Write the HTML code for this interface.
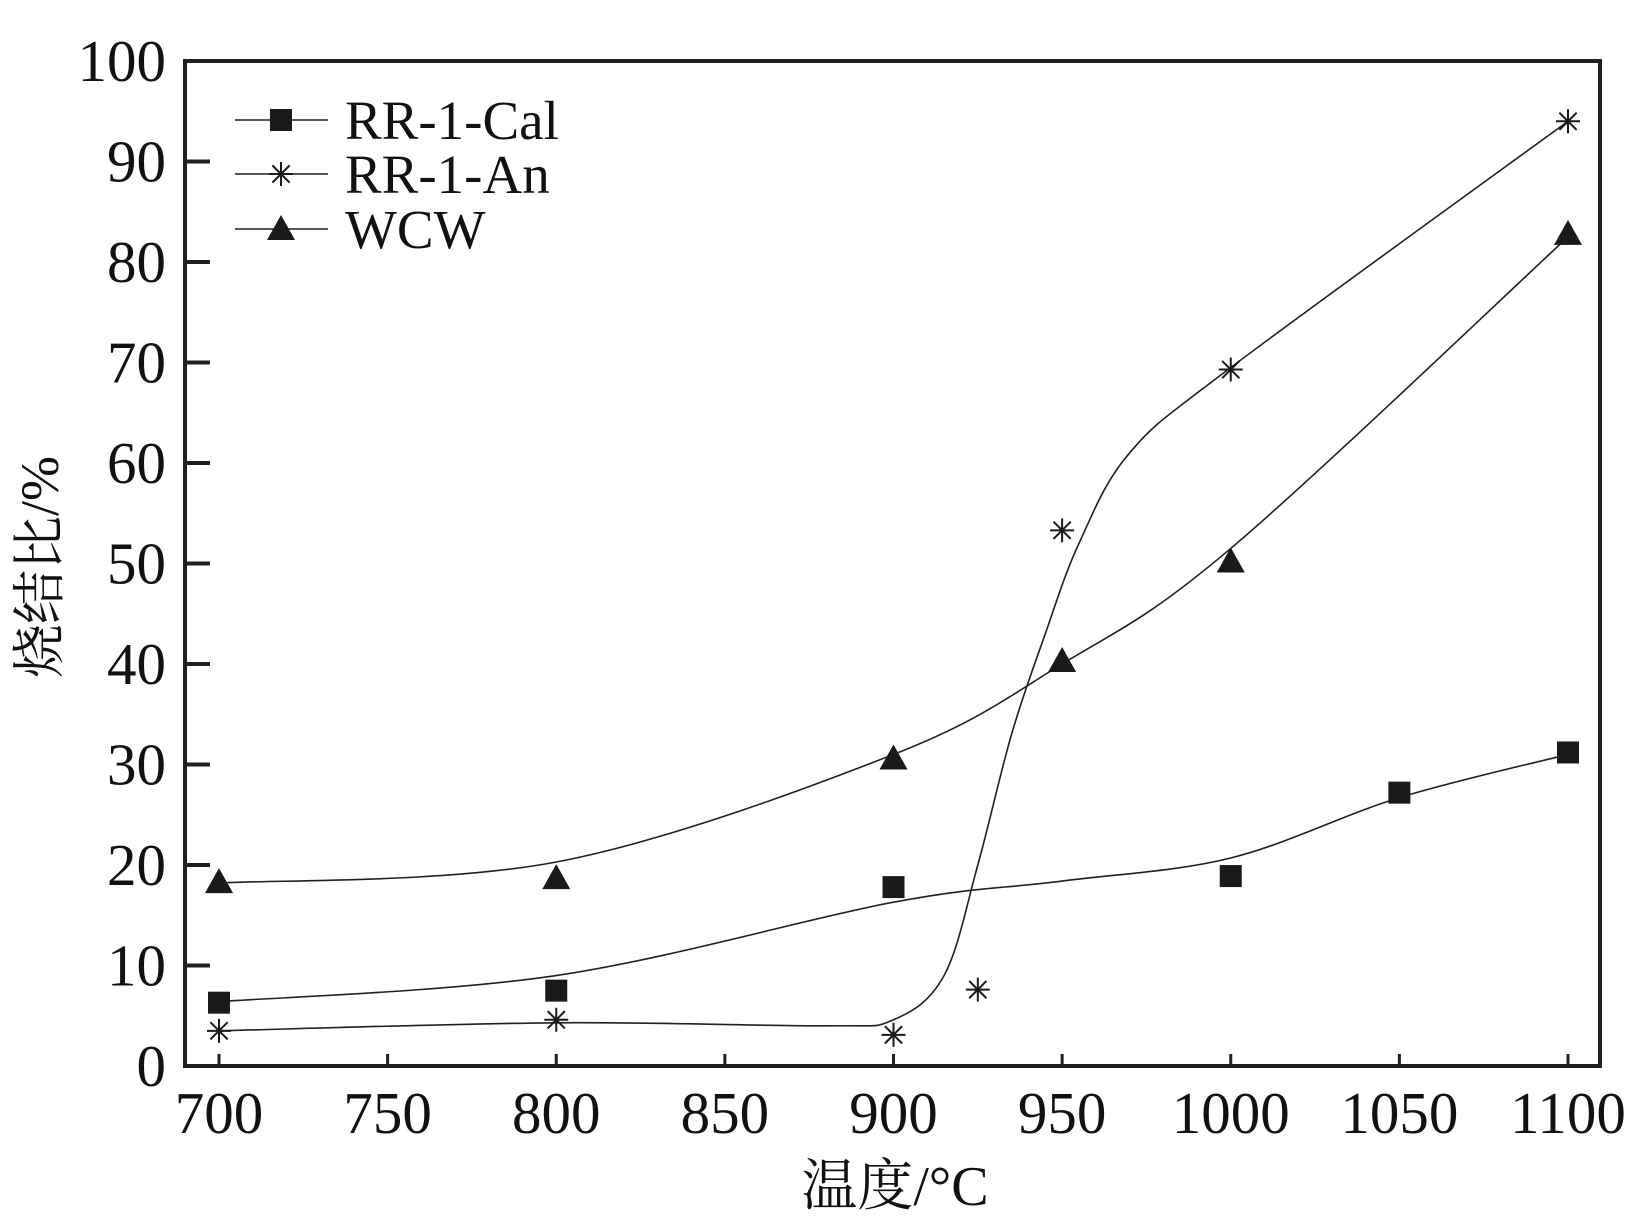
<!DOCTYPE html>
<html><head><meta charset="utf-8"><style>
html,body{margin:0;padding:0;background:#fff}
svg{display:block}
text{font-family:"Liberation Serif","Noto Serif CJK SC",serif;fill:#111}
</style></head><body>
<svg id="chart" width="1631" height="1229" viewBox="0 0 1631 1229" xmlns="http://www.w3.org/2000/svg">
<g id="axes"></g>
<g id="curves"></g>
<g id="marks"></g>
<g id="legend"></g>
<text x="0" y="0" transform="translate(58,567) rotate(-90)" text-anchor="middle" font-size="54" font-family="'Liberation Serif','Noto Sans CJK SC',sans-serif">烧结比/%</text>
<text x="895" y="1205" text-anchor="middle" font-size="56" font-family="'Liberation Serif','Noto Sans CJK SC',serif">温度/°C</text>
</svg>
<script>
const xTicks=[700,750,800,850,900,950,1000,1050,1100];
const yTicks=[0,10,20,30,40,50,60,70,80,90,100];
const calX=[700,800,900,1000,1050,1100];
const calY=[6.3,7.5,17.8,18.9,27.2,31.2];
const anX=[700,800,900,925,950,1000,1100];
const anY=[3.5,4.6,3.1,7.6,53.3,69.3,94];
const wcwX=[700,800,900,950,1000,1100];
const wcwY=[18.3,18.7,30.6,40.3,50.2,82.8];
const calFitX=[700,800,900,950,1000,1050,1100];
const calFitY=[6.4,9,16.3,18.4,20.7,26.7,31];
const anFitX=[700,800,880,900,915,925,935,945,955,970,1000,1100];
const anFitY=[3.5,4.3,4.0,4.6,9,20,33,43,52,61,69.5,94];
const wcwFitX=[700,800,900,950,1000,1100];
const wcwFitY=[18.2,20.3,31,40,51.5,82.5];
const L=185,R=1600,T=61,B=1066;
const sx=v=>219+(v-700)*(1568-219)/400;
const sy=v=>B-v*(B-T)/100;
const NS='http://www.w3.org/2000/svg';
function mk(tag,attrs,parent){const e=document.createElementNS(NS,tag);for(const k in attrs)e.setAttribute(k,attrs[k]);parent.appendChild(e);return e;}
const axes=document.getElementById('axes');
let frame=mk('rect',{x:L,y:T,width:R-L,height:B-T,fill:'none',stroke:'#231f20','stroke-width':4},axes);


xTicks.forEach(v=>{
 let t=mk('line',{x1:sx(v),x2:sx(v),y1:B,y2:B-12,stroke:'#231f20','stroke-width':3},axes);
 
 
 let l=mk('text',{x:sx(v),y:1133,'text-anchor':'middle','font-size':59},axes);
 l.textContent=v;
 
 
});
yTicks.forEach(v=>{
 let t=mk('line',{x1:L,x2:L+25,y1:sy(v),y2:sy(v),stroke:'#231f20','stroke-width':4},axes);
 
 
 let l=mk('text',{x:166,y:sy(v)+20,'text-anchor':'end','font-size':59},axes);
 l.textContent=v;
 
 
});
function curve(xs,ys){
 const p=xs.map((x,i)=>[sx(x),sy(ys[i])]);
 let d='M'+p[0][0]+','+p[0][1];
 for(let i=0;i<p.length-1;i++){
  const p0=p[Math.max(0,i-1)],p1=p[i],p2=p[i+1],p3=p[Math.min(p.length-1,i+2)];
  const c1=[p1[0]+(p2[0]-p0[0])/6,p1[1]+(p2[1]-p0[1])/6];
  const c2=[p2[0]-(p3[0]-p1[0])/6,p2[1]-(p3[1]-p1[1])/6];
  d+=' C'+c1+' '+c2+' '+p2;
 }
 return d;
}
const cg=document.getElementById('curves');
[[calFitX,calFitY,'cal-fit-line'],[anFitX,anFitY,'an-fit-line'],[wcwFitX,wcwFitY,'wcw-fit-line']].forEach(s=>{
 let p=mk('path',{d:curve(s[0],s[1]),fill:'none',stroke:'#231f20','stroke-width':1.6},cg);
 
 
});
function square(x,y,g){return mk('rect',{x:x-11,y:y-11,width:22,height:22,fill:'#1a1a1a'},g);}
function star(x,y,g){const r=12;const q=r*0.72;return mk('path',{d:`M${x},${y-r}V${y+r}M${x-r},${y}H${x+r}M${x-q},${y-q}L${x+q},${y+q}M${x-q},${y+q}L${x+q},${y-q}`,stroke:'#1a1a1a','stroke-width':2,fill:'none'},g);}
function tri(x,y,g){return mk('path',{d:`M${x},${y-14}L${x+14},${y+11}L${x-14},${y+11}Z`,fill:'#1a1a1a'},g);}
const mg=document.getElementById('marks');
calX.forEach((x,i)=>{let m=square(sx(x),sy(calY[i]),mg);});
anX.forEach((x,i)=>{let m=star(sx(x),sy(anY[i]),mg);});
wcwX.forEach((x,i)=>{let m=tri(sx(x),sy(wcwY[i]),mg);});
const lg=document.getElementById('legend');
[['RR-1-Cal',square,120],['RR-1-An',star,174],['WCW',tri,229]].forEach(e=>{
 let g=mk('g',{},lg);
 
 
 mk('line',{x1:235,x2:328,y1:e[2],y2:e[2],stroke:'#231f20','stroke-width':1.6},g);
 e[1](281,e[2],g);
 let t=mk('text',{x:345,y:e[2]+19,'font-size':55},g);
 t.textContent=e[0];
});
</script>
</body></html>
